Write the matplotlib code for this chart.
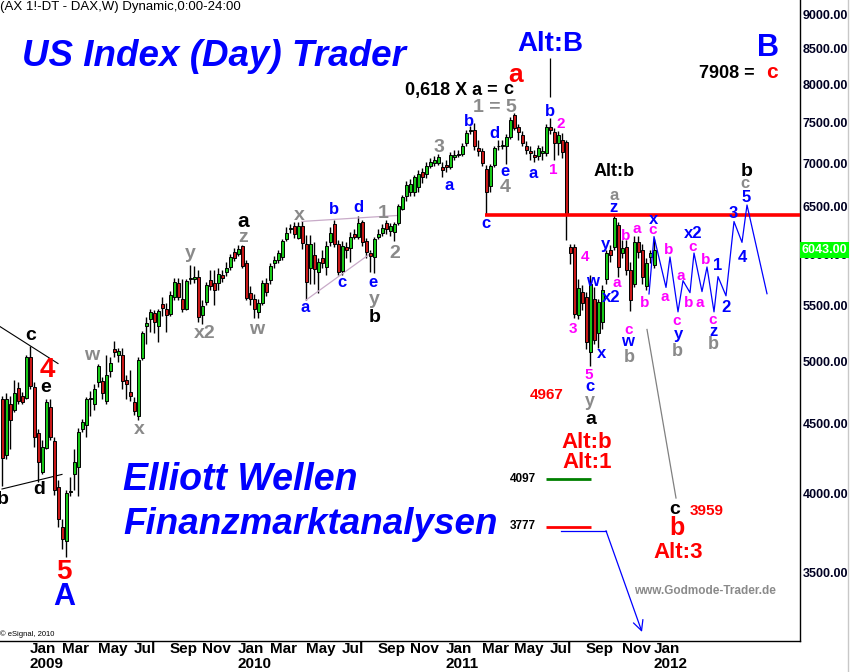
import numpy as np
import pandas as pd
import matplotlib
matplotlib.use('Agg')
import matplotlib.pyplot as plt
import matplotlib.transforms as mtransforms
from matplotlib.lines import Line2D
from matplotlib.ticker import NullLocator

# weekly DAX bars, first bar = week of 17 Nov 2008
weeks = pd.date_range('2008-11-17', periods=164, freq='W-MON')

opens = [4690, 4270, 4650, 4610, 4780, 4720, 4700,
         5040, 4790, 4430, 4150, 4320, 4630, 4370, 4040, 3780, 3690, 4010, 4130, 4180,
         4460, 4490, 4690, 4650, 4830, 4840, 4680, 4920, 5110, 5060, 5060, 4850, 4750, 4670, 4560,
         5030, 5310, 5370, 5430, 5310, 5510, 5470, 5420, 5580, 5710, 5560, 5470, 5750, 5750, 5770,
         5410, 5530, 5740, 5710, 5710, 5790, 5820, 5870, 6020, 6000, 6080, 5910, 5620, 5560, 5440,
         5520, 5710, 5740, 5910, 5940, 5970, 6160, 6260, 6290, 6170, 6290, 6100, 5860, 5990, 5820,
         5960, 5870, 6120, 6310, 6100, 5830, 6070, 6060, 6210, 6180, 6330, 6130, 6010, 5970, 6180,
         6220, 6320, 6240, 6230, 6320, 6480, 6620, 6670,
         6670, 6720, 6890, 6870, 6970, 7000, 7000, 6950, 6980, 6950, 7070, 7100, 7110, 7240, 7390,
         7410, 7180, 7150, 6930, 6730, 6980, 7200, 7210, 7200, 7320, 7590, 7440, 7340, 7200, 7150,
         7100, 7080, 7120, 7120, 7440, 7380, 7240, 7280,
         7260, 6070, 6070, 5410, 5630, 5580, 5080, 5560, 5250, 5350, 5750, 6040, 6070, 6300, 6010,
         6070, 5840, 5700, 6120, 6040, 5680, 5970, 5890]
highs = [4720, 4740, 4720, 4850, 4830, 4750, 5060,
         5130, 4830, 4460, 4380, 4690, 4690, 4400, 4090, 3830, 4020, 4110, 4310, 4470,
         4540, 4710, 4760, 4810, 4980, 4870, 5060, 5040, 5180, 5120, 5120, 4890, 4930, 4710, 5040,
         5270, 5390, 5470, 5460, 5470, 5580, 5520, 5640, 5760, 5760, 5750, 5750, 5890, 5880, 5840,
         5550, 5720, 5840, 5840, 5860, 5840, 5920, 6000, 6060, 6090, 6090, 5940, 5680, 5610, 5560,
         5740, 5760, 5910, 5980, 6040, 6150, 6280, 6310, 6340, 6330, 6350, 6200, 6200, 6120, 5960,
         6040, 6130, 6280, 6360, 6140, 6130, 6120, 6230, 6260, 6400, 6360, 6170, 6040, 6180, 6260,
         6310, 6360, 6320, 6340, 6530, 6630, 6790, 6810,
         6860, 6920, 6940, 7010, 7060, 7090, 7110, 7010, 7040, 7130, 7160, 7160, 7240, 7400, 7460,
         7490, 7280, 7180, 6980, 6990, 7210, 7280, 7280, 7350, 7570, 7620, 7480, 7390, 7270, 7210,
         7160, 7220, 7200, 7480, 7550, 7430, 7390, 7370,
         7280, 6100, 6100, 5750, 5690, 5630, 5790, 5670, 5560, 5690, 6040, 6090, 6420, 6340, 6140,
         6140, 5920, 6190, 6190, 6100, 5960, 6040, 6160]
lows = [4050, 4240, 4310, 4590, 4650, 4650, 4690,
        4770, 4330, 4080, 4130, 4310, 4380, 3990, 3780, 3640, 3590, 3980, 4020, 3980,
        4440, 4400, 4560, 4610, 4790, 4690, 4650, 4870, 5040, 5000, 4770, 4690, 4680, 4570, 4530,
        5010, 5150, 5260, 5250, 5170, 5400, 5260, 5400, 5550, 5550, 5440, 5460, 5700, 5710, 5350,
        5330, 5500, 5650, 5500, 5650, 5720, 5780, 5840, 5930, 5980, 5860, 5550, 5500, 5380, 5380,
        5500, 5590, 5700, 5860, 5910, 5940, 6130, 6220, 6170, 6150, 6050, 5550, 5700, 5700, 5620,
        5860, 5790, 6080, 6070, 5790, 5790, 5960, 5920, 6150, 6150, 6080, 5960, 5820, 5810, 6150,
        6190, 6210, 6190, 6130, 6300, 6460, 6570, 6620,
        6620, 6670, 6770, 6830, 6940, 6970, 6980, 6840, 6900, 6930, 7040, 7070, 7090, 7210, 7350,
        7160, 7090, 6970, 6410, 6670, 6950, 7160, 7170, 6990, 7290, 7400, 7280, 7210, 7110, 7040,
        7010, 7040, 7040, 7080, 7350, 7040, 7100, 7060,
        6140, 5900, 5380, 5370, 5460, 5110, 4967, 5150, 5120, 5280, 5700, 5920, 6040, 5770, 5960,
        5790, 5450, 5670, 5960, 5700, 5650, 5910, 5860]
closes = [4250, 4690, 4530, 4740, 4680, 4670, 5040,
          4800, 4400, 4220, 4330, 4670, 4400, 4020, 3830, 3700, 4000, 4010, 4220, 4440,
          4510, 4690, 4700, 4770, 4960, 4740, 4890, 4990, 5080, 5090, 4840, 4810, 4720, 4600, 5010,
          5250, 5340, 5440, 5350, 5450, 5480, 5410, 5600, 5720, 5580, 5470, 5730, 5760, 5770, 5390,
          5490, 5690, 5680, 5650, 5800, 5760, 5860, 5970, 5960, 6050, 5880, 5570, 5560, 5470, 5520,
          5710, 5630, 5880, 5940, 6010, 6130, 6220, 6270, 6210, 6290, 6110, 5720, 6100, 5850, 5920,
          5910, 6080, 6220, 6100, 5820, 6080, 6040, 6180, 6180, 6320, 6120, 6020, 5980, 6150, 6210,
          6270, 6260, 6290, 6310, 6510, 6610, 6740, 6760,
          6840, 6870, 6840, 6970, 7010, 7040, 7070, 6920, 6950, 7100, 7100, 7110, 7210, 7370, 7410,
          7200, 7150, 7000, 6670, 6970, 7180, 7210, 7220, 7320, 7530, 7430, 7380, 7240, 7160, 7120,
          7070, 7180, 7150, 7440, 7410, 7240, 7340, 7130,
          6420, 6010, 5420, 5660, 5520, 5170, 5700, 5190, 5530, 5650, 6010, 5990, 6380, 5870, 6060,
          5840, 5550, 6120, 6020, 5770, 5910, 6010, 6043]

price_levels = [3500, 4000, 4500, 5000, 5500, 6000, 6500, 7000, 7500, 8000, 8500, 9000]
last_price = 6043.00

# drawn lines (bar index, price)
support_line = 6413          # red horizontal from the March 2011 low
level_4097 = 4097
level_3777 = 3777
proj_x = [161.75, 163, 166, 167, 169, 170.25, 172, 173, 175, 176.25, 178, 179, 181, 183, 185, 186.25, 191.25]
proj_y = [5608, 6180, 5670, 5970, 5440, 5735, 5620, 6010, 5630, 5870, 5440, 5775, 5590, 6340, 6120, 6520, 5610]
alt_path_x = [161.25, 168.5]
alt_path_y = [5280, 3968]
arrow_x = [139.75, 151, 160]
arrow_y = [3754, 3754, 3162]
tri09_up_x, tri09_up_y = [-0.5, 14], [5306, 4984]
tri09_lo_x, tri09_lo_y = [0, 15], [4029, 4130]
tri10_up_x, tri10_up_y = [75, 98.75], [6341, 6405]
tri10_lo_x, tri10_lo_y = [76, 92.25], [5550, 6010]

W, H = 851, 672
BLUE, MAG, GRAY, RED, BLK = '#0000ff', '#ff00ff', '#8a8a8a', '#ff0000', '#000000'
GREEN_C, RED_C = '#18c818', '#c81818'

fig = plt.figure(figsize=(W / 100, H / 100), dpi=100)
fig.patch.set_facecolor('white')
ax = fig.add_axes([0, 1 - 641 / H, 800 / W, 641 / H])
ax.set_yscale('log')
ax.set_ylim(3114, 9229)
ax.set_xlim(-0.5, 199.5)

x = np.arange(len(weeks))
o, h, l, c = map(np.array, (opens, highs, lows, closes))
lo_b = np.minimum(o, c)
hi_b = np.maximum(o, c)
ax.vlines(x, np.minimum(l, lo_b), np.maximum(h, hi_b), color='black', lw=1, zorder=2)
ax.bar(x, np.maximum(hi_b - lo_b, 8), bottom=lo_b, width=0.75,
       color=np.where(c >= o, GREEN_C, RED_C), edgecolor='black', linewidth=0.7, zorder=3)

ax.hlines(support_line, 120.75, 199.5, color=RED, lw=2.6, zorder=4)
ax.hlines(level_4097, 136, 147.25, color='#008000', lw=2)
ax.hlines(level_3777, 136, 147.25, color=RED, lw=2)
ax.plot(proj_x, proj_y, color=BLUE, lw=0.9, zorder=4)
ax.plot(alt_path_x, alt_path_y, color='#808080', lw=0.9)
ax.plot(arrow_x[:2], arrow_y[:2], color=BLUE, lw=0.9)
ax.annotate('', xy=(arrow_x[2], arrow_y[2]), xytext=(arrow_x[1], arrow_y[1]),
            arrowprops=dict(arrowstyle='->', color=BLUE, lw=0.9, mutation_scale=18,
                            shrinkA=0, shrinkB=0))
ax.plot(tri09_up_x, tri09_up_y, color='black', lw=0.8)
ax.plot(tri09_lo_x, tri09_lo_y, color='black', lw=0.8)
ax.plot(tri10_up_x, tri10_up_y, color='#c8aac8', lw=0.9)
ax.plot(tri10_lo_x, tri10_lo_y, color='#c8aac8', lw=0.9)
ax.vlines(137, 7830, 8365, color='black', lw=0.9)

# axes look
for s in ('top', 'left'):
    ax.spines[s].set_visible(False)
for s in ('right', 'bottom'):
    ax.spines[s].set_color('black')
    ax.spines[s].set_linewidth(1)
ax.yaxis.tick_right()
ax.set_yticks(price_levels)
ax.set_yticklabels([f'{v:.2f}' for v in price_levels])
ax.yaxis.set_minor_locator(NullLocator())
ax.tick_params(axis='y', length=0, pad=2, labelsize=9, labelcolor='#000022')
for t in ax.get_yticklabels():
    t.set_fontweight('bold')
    t.set_fontfamily('Liberation Sans')

month_pos, month_lab, year_pos = [], [], []
for i in range(1, len(weeks)):
    d = weeks[i]
    if d.month != weeks[i - 1].month and d.month % 2 == 1:
        month_pos.append(i)
        month_lab.append(d.strftime('%b'))
        if d.month == 1:
            year_pos.append((i, str(d.year)))
ax.set_xticks(month_pos)
ax.set_xticklabels(month_lab)
ax.xaxis.set_minor_locator(NullLocator())
ax.tick_params(axis='x', length=0, pad=1, labelsize=11)
for t in ax.get_xticklabels():
    t.set_fontweight('bold')
    t.set_fontfamily(['Liberation Sans Narrow', 'Liberation Sans'])
    t.set_horizontalalignment('left')
blend = mtransforms.blended_transform_factory(ax.transData, ax.transAxes)
for pos, yr in year_pos:
    ax.text(pos, (641 - 664) / 641, yr, transform=blend, ha='left', va='center',
            fontsize=11, fontweight='bold', family=['Liberation Sans Narrow', 'Liberation Sans'],
            clip_on=False)


def put(px, py, s, color, size, weight='bold', style='normal', ha='center', family='Liberation Sans'):
    fig.text(px / W, 1 - py / H, s, color=color, fontsize=size, fontweight=weight,
             fontstyle=style, ha=ha, va='center', family=family, zorder=5)


labels = [
    (31, 335, 'c', BLK, 14), (47, 370, '4', RED, 20), (46, 388, 'e', BLK, 14),
    (39, 490, 'd', BLK, 14), (3, 500, 'b', BLK, 14), (64, 572, '5', RED, 20),
    (64, 597, 'A', BLUE, 22), (92, 355, 'w', GRAY, 14), (139, 430, 'x', GRAY, 14),
    (190, 253, 'y', GRAY, 14), (205, 334, 'x2', GRAY, 14), (243, 237, 'z', GRAY, 14),
    (243, 221, 'a', BLK, 15), (257, 330, 'w', GRAY, 14), (299, 215, 'x', GRAY, 14),
    (305, 307, 'a', BLUE, 12), (334, 210, 'b', BLUE, 12), (342, 282, 'c', BLUE, 12),
    (358, 208, 'd', BLUE, 12), (373, 282, 'e', BLUE, 12), (374, 299, 'y', GRAY, 14),
    (375, 318, 'b', BLK, 14), (383, 213, '1', GRAY, 14), (395, 253, '2', GRAY, 14),
    (439, 147, '3', GRAY, 14), (449, 186, 'a', BLUE, 12), (469, 121, 'b', BLUE, 12),
    (494, 133, 'd', BLUE, 12), (486, 223, 'c', BLUE, 12), (505, 172, 'e', BLUE, 12),
    (505, 187, '4', GRAY, 14), (533, 173, 'a', BLUE, 12), (495, 107, '1 = 5', GRAY, 14),
    (550, 112, 'b', BLUE, 12), (561, 124, '2', MAG, 11), (553, 170, '1', MAG, 11),
    (585, 257, '4', MAG, 11), (573, 329, '3', MAG, 11), (589, 375, '5', MAG, 11),
    (590, 387, 'c', BLUE, 12), (590, 402, 'y', GRAY, 13), (591, 420, 'a', BLK, 14),
    (614, 195, 'a', GRAY, 12), (614, 208, 'z', BLUE, 12), (654, 219, 'x', BLUE, 12),
    (653, 230, 'c', MAG, 11), (733, 213, '3', BLUE, 12), (742, 257, '4', BLUE, 12),
    (626, 236, 'b', MAG, 11), (637, 229, 'a', MAG, 11), (605, 244, 'y', BLUE, 12),
    (669, 250, 'b', MAG, 11), (693, 234, 'x2', BLUE, 12), (693, 247, 'c', MAG, 11),
    (706, 260, 'b', MAG, 11), (718, 266, '1', BLUE, 12), (681, 276, 'a', MAG, 11),
    (592, 281, 'w', BLUE, 12), (617, 283, 'a', MAG, 11), (611, 297, 'x2', BLUE, 12),
    (665, 297, 'a', MAG, 11), (645, 303, 'b', MAG, 11), (689, 303, 'b', MAG, 11),
    (700, 303, 'a', MAG, 11), (726, 308, '2', BLUE, 12), (629, 330, 'c', MAG, 11),
    (677, 321, 'c', MAG, 11), (713, 320, 'c', MAG, 11), (678, 334, 'y', BLUE, 12),
    (713, 332, 'z', BLUE, 12), (627, 342, 'w', BLUE, 12), (677, 351, 'b', GRAY, 13),
    (713, 345, 'b', GRAY, 13), (602, 353, 'x', BLUE, 12), (629, 358, 'b', GRAY, 13),
    (747, 171, 'b', BLK, 14), (745, 183, 'c', GRAY, 12), (746, 197, '5', BLUE, 12),
    (614, 172, 'Alt:b', BLK, 13),
    (550, 44, 'Alt:B', BLUE, 20), (768, 48, 'B', BLUE, 22), (727, 73, '7908 =', BLK, 13),
    (772, 72, 'c', RED, 15), (516, 75, 'a', RED, 19), (451, 90, '0,618 X a =', BLK, 13),
    (508, 90, 'c', BLK, 13), (547, 395, '4967', RED, 11), (587, 442, 'Alt:b', RED, 16),
    (587, 462, 'Alt:1', RED, 16), (523, 479, '4097', BLK, 8.5), (523, 526, '3777', BLK, 8.5),
    (675, 509, 'c', BLK, 14), (707, 511, '3959', RED, 11), (677, 528, 'b', RED, 18),
    (678, 552, 'Alt:3', RED, 16),
]
for px, py, s, col, sz in labels:
    put(px, py, s, col, sz)

put(705, 591, 'www.Godmode-Trader.de', '#8a8a8a', 8.5)
put(22, 56, 'US Index (Day) Trader', BLUE, 26.5, style='italic', ha='left')
put(123, 480, 'Elliott Wellen', BLUE, 27, style='italic', ha='left')
put(123, 525, 'Finanzmarktanalysen', BLUE, 26.5, style='italic', ha='left')
put(0, 634, '\u00a9 eSignal, 2010', BLK, 5.5, weight='normal', ha='left')
put(0, 7, '(AX 1!-DT - DAX,W) Dynamic,0:00-24:00', BLK, 9.5, weight='normal', ha='left')

fig.text(802 / W, 1 - 250 / H, f'{last_price:.2f}', color='white', fontsize=9, fontweight='bold',
         family='Liberation Sans', ha='left', va='center', zorder=6,
         bbox=dict(facecolor='#00ff00', edgecolor='none', pad=1.2))
fig.add_artist(Line2D([848 / W, 848 / W], [0, 1], color='#c8c8c8', lw=1))

fig.savefig('out.png', dpi=100)
